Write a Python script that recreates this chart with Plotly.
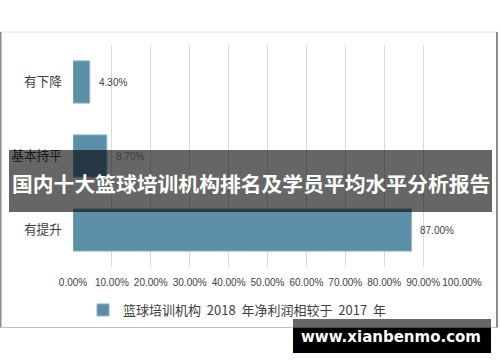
import plotly.graph_objects as go

# ---- data ----
categories = ["有下降", "基本持平", "有提升"]
values = [4.30, 8.70, 87.00]
value_labels = ["4.30%", "8.70%", "87.00%"]
tick_vals = [0, 10, 20, 30, 40, 50, 60, 70, 80, 90, 100]
tick_text = ["0.00%", "10.00%", "20.00%", "30.00%", "40.00%", "50.00%",
             "60.00%", "70.00%", "80.00%", "90.00%", "100.00%"]
series_name = "篮球培训机构  2018  年净利润相较于  2017  年"
title_text = "国内十大篮球培训机构排名及学员平均水平分析报告"
watermark_text = "www.xianbenmo.com"

W, H = 500, 362
L, R, T, B = 73, 38, 45, 95
PW, PH = W - L - R, H - T - B


def px(x):
    return (x - L) / PW


def py(y):
    return (H - B - y) / PH


BAR = "#5b8fa8"
CJK = "Noto Sans CJK SC"
LAT = "Liberation Sans, Arial, sans-serif"

fig = go.Figure()
fig.add_trace(go.Bar(
    x=values, y=categories, orientation="h",
    marker=dict(color=BAR, line=dict(color="#8fb2c3", width=1)),
    name=series_name, showlegend=True,
))

for v, c, t in zip(values, categories, value_labels):
    fig.add_annotation(x=v, y=c, text=t, xanchor="left", yanchor="middle",
                       xshift=7, showarrow=False,
                       font=dict(family=LAT, size=10, color="#404040"))

shapes = []
# outer chart frame
shapes.append(dict(type="line", xref="paper", yref="paper", x0=px(0), x1=px(497),
                   y0=py(32), y1=py(32), line=dict(color="#e6e6e6", width=1)))
shapes.append(dict(type="line", xref="paper", yref="paper", x0=px(0.75), x1=px(0.75),
                   y0=py(32), y1=py(327), line=dict(color="#8c8c8c", width=1.5)))
shapes.append(dict(type="line", xref="paper", yref="paper", x0=px(0), x1=px(497),
                   y0=py(327.5), y1=py(327.5), line=dict(color="#bfbfbf", width=1)))
shapes.append(dict(type="line", xref="paper", yref="paper", x0=px(497), x1=px(497),
                   y0=py(32), y1=py(327.5), line=dict(color="#8c8c8c", width=2)))
# title banner
shapes.append(dict(type="rect", xref="paper", yref="paper", x0=px(9), x1=px(492),
                   y0=py(150), y1=py(212), fillcolor="rgba(0,0,0,0.6)",
                   line=dict(width=0), layer="above"))
# watermark box
shapes.append(dict(type="rect", xref="paper", yref="paper", x0=px(293), x1=px(491),
                   y0=py(319), y1=py(328), fillcolor="rgba(0,0,0,0.6)",
                   line=dict(width=0), layer="above"))
shapes.append(dict(type="rect", xref="paper", yref="paper", x0=px(293), x1=px(491),
                   y0=py(328), y1=py(353), fillcolor="#000000",
                   line=dict(width=0), layer="above"))

fig.add_annotation(xref="paper", yref="paper", x=px(250.5), y=py(183),
                   text="<b>" + title_text + "</b>", showarrow=False,
                   xanchor="center", yanchor="middle",
                   font=dict(family=CJK, size=20.8, color="#ffffff"))
fig.add_annotation(xref="paper", yref="paper", x=px(391), y=py(337),
                   text="<b>" + watermark_text + "</b>", showarrow=False,
                   xanchor="center", yanchor="middle",
                   font=dict(family="DejaVu Sans", size=15, color="#ffffff"))

fig.update_layout(
    width=W, height=H,
    margin=dict(l=L, r=R, t=T, b=B, autoexpand=False),
    paper_bgcolor="white", plot_bgcolor="white",
    bargap=0.43,
    shapes=shapes,
    showlegend=True,
    legend=dict(orientation="h", x=px(83), xanchor="left", y=py(310),
                yanchor="middle", font=dict(family=CJK, size=13, color="#404040"),
                bgcolor="rgba(0,0,0,0)", itemwidth=30),
    xaxis=dict(range=[0, 100], tickvals=tick_vals, ticktext=tick_text,
               showgrid=True, gridcolor="#d9d9d9", gridwidth=1,
               zeroline=False, showline=False, fixedrange=True,
               tickfont=dict(family=LAT, size=10, color="#404040"),
               ticks="", ticklabelstandoff=8, automargin=False),
    yaxis=dict(autorange="reversed", showgrid=False, zeroline=False,
               showline=False, ticks="", ticklabelstandoff=10,
               tickfont=dict(family=CJK, size=12.7, color="#404040"),
               automargin=False),
)

fig.write_html("out.html", config={"displayModeBar": False},
               post_script="document.body.style.margin='0';document.body.style.overflow='hidden';")
